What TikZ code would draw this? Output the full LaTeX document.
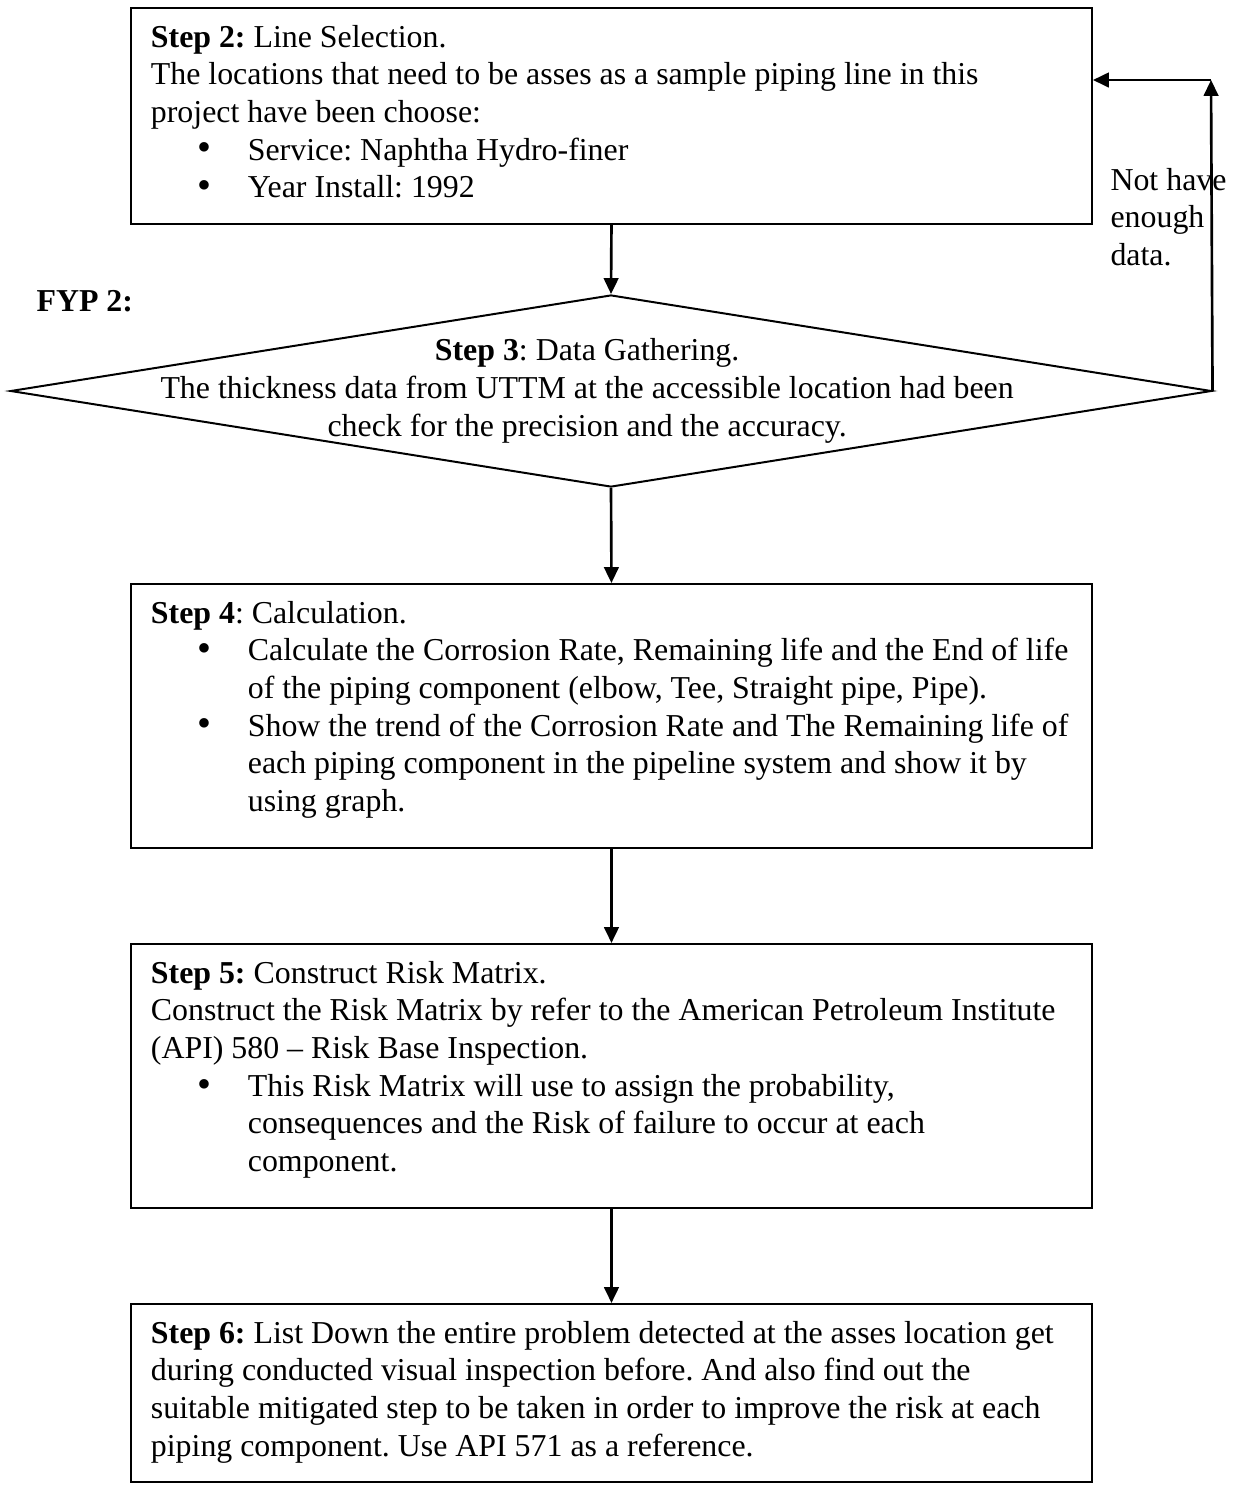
\documentclass[tikz,border=0pt]{standalone}
\usepackage{fontspec}
\setmainfont{Liberation Serif}
\usetikzlibrary{shapes.geometric,arrows.meta}
\frenchspacing

\newcommand{\bul}{\par\hangindent=36.5pt\noindent\makebox[36.5pt][l]{\hspace{17.6pt}\raisebox{-0.3pt}{\fontsize{15}{15}\selectfont\textbullet}}}
\newcommand{\boxtext}[2]{\parbox[t][#1][t]{361.8pt}{\leftskip=7.5pt\rule{0pt}{14.7pt}#2}}

\begin{document}
\begin{tikzpicture}[x=0.3765pt, y=-0.3765pt,
    font=\fontsize{12}{14.2}\selectfont,
    stepbox/.style={draw, line width=0.75pt, inner sep=0pt, anchor=north west},
    decision/.style={diamond, draw, line width=0.75pt, inner sep=0pt,
        minimum width=452.2pt, minimum height=72.3pt},
    flow/.style={line width=1pt, -{Triangle[length=6pt,width=5.5pt]}}]
    \useasboundingbox (0,0) rectangle (1239,1491);

    \node[stepbox] (line) at (130,7) {\boxtext{81.3pt}{\textbf{Step 2:} Line Selection.\\
        The locations that need to be asses as a sample piping line in this\\
        project have been choose:
        \bul Service: Naphtha Hydro-finer
        \bul Year Install: 1992}};

    \node[anchor=base west, inner sep=0pt] (fyp) at (36,311) {\textbf{FYP 2:}};

    \node[decision] (gather) at (611,391) {\makebox[0pt]{\begin{tabular}{@{}c@{}}\textbf{Step 3}: Data Gathering.\\
        The thickness data from UTTM at the accessible location had been\\
        check for the precision and the accuracy.\end{tabular}\hspace{18pt}}};

    \node[stepbox] (calc) at (130,583) {\boxtext{99.4pt}{\textbf{Step 4}: Calculation.
        \bul Calculate the Corrosion Rate, Remaining life and the End of life\\
        of the piping component (elbow, Tee, Straight pipe, Pipe).
        \bul Show the trend of the Corrosion Rate and The Remaining life of\\
        each piping component in the pipeline system and show it by\\
        using graph.}};

    \node[stepbox] (risk) at (130,943) {\boxtext{99.4pt}{\textbf{Step 5:} Construct Risk Matrix.\\
        Construct the Risk Matrix by refer to the American Petroleum Institute\\
        (API) 580 -- Risk Base Inspection.
        \bul This Risk Matrix will use to assign the probability,\\
        consequences and the Risk of failure to occur at each\\
        component.}};

    \node[stepbox] (mitig) at (130,1303) {\boxtext{67pt}{\textbf{Step 6:} List Down the entire problem detected at the asses location get\\
        during conducted visual inspection before. And also find out the\\
        suitable mitigated step to be taken in order to improve the risk at each\\
        piping component. Use API 571 as a reference.}};

    \node[anchor=base west, inner sep=0pt] (nodata) at (1110,190) {\parbox[t]{60pt}{Not have\\ enough\\ data.}};

    \draw[flow] (line.south) -- (gather.north);
    \draw[flow] (gather.south) -- (calc.north);
    \draw[flow] (calc.south) -- (risk.north);
    \draw[flow] (risk.south) -- (mitig.north);

    % loop back when data is missing
    \coordinate (back) at (1211,80);
    \draw[flow] (gather.east) -- (back);
    \draw[flow] (back) -- (back -| line.east);
\end{tikzpicture}
\end{document}
